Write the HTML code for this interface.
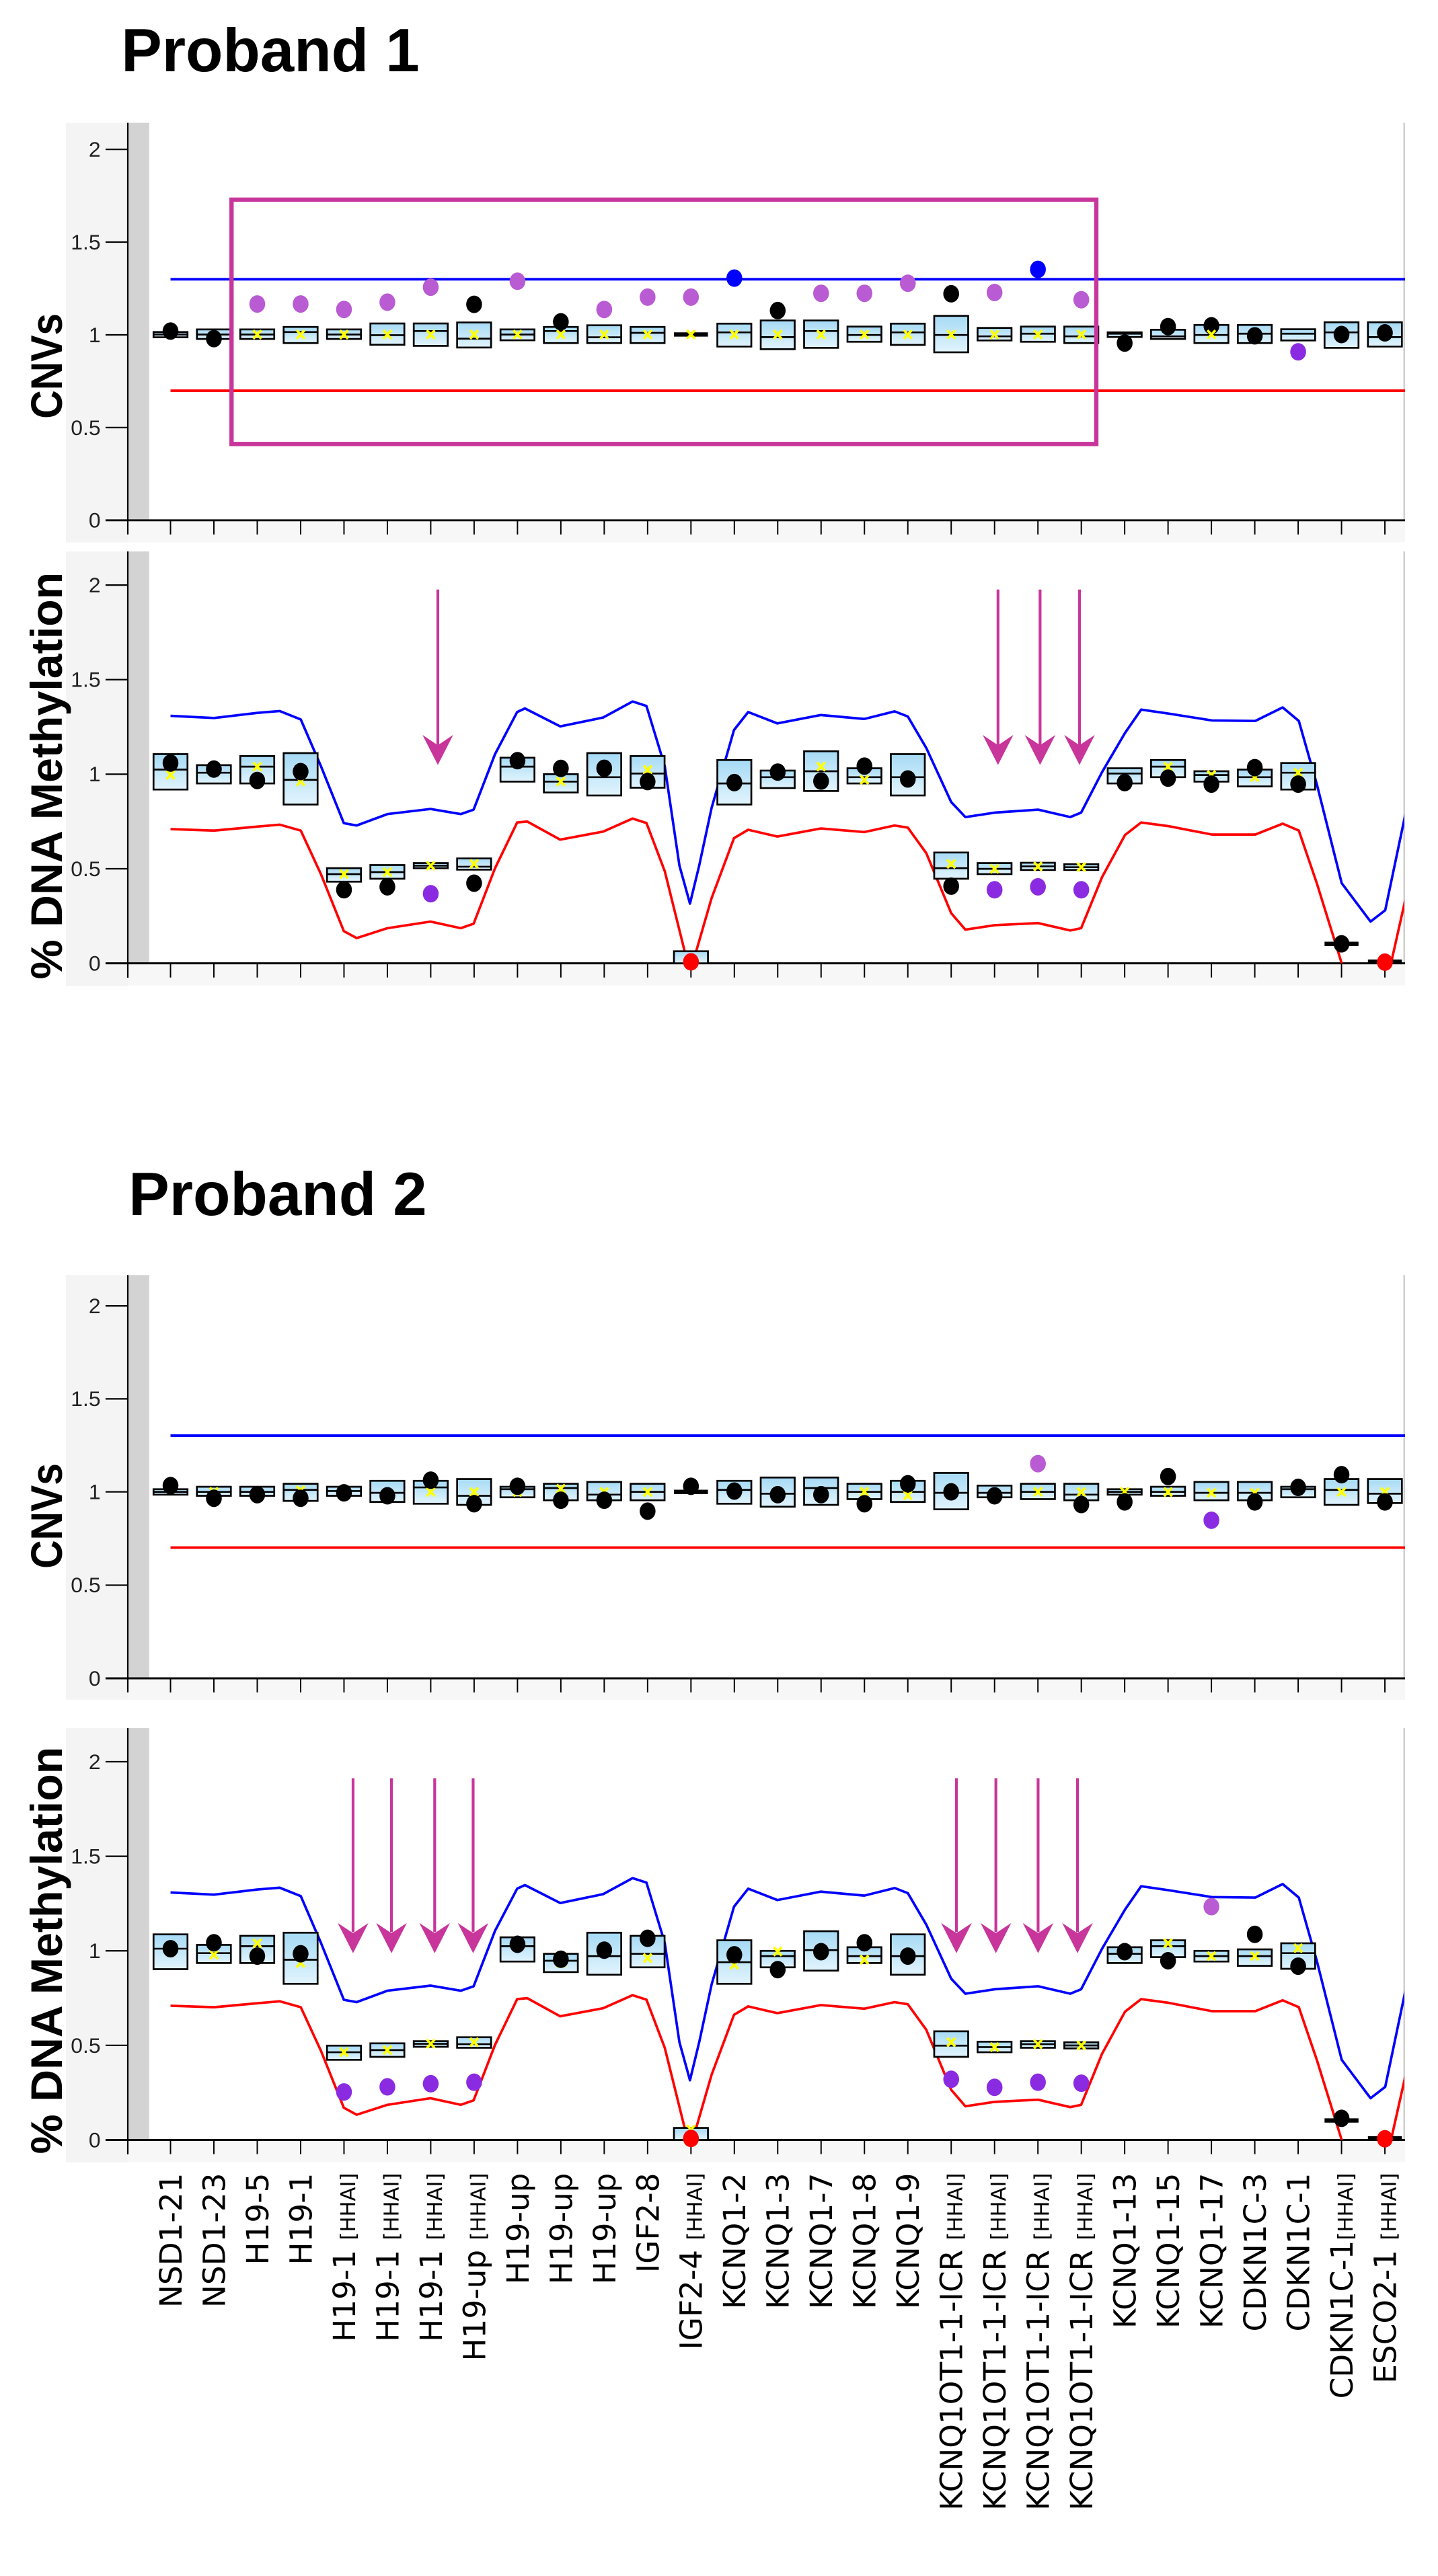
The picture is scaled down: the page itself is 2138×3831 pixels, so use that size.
<!DOCTYPE html>
<html><head><meta charset="utf-8"><style>
html,body{margin:0;padding:0;background:#fff;}
svg{display:block;}
.b{fill:url(#g);stroke:#000;stroke-width:1.1;}
.m{stroke:#000;stroke-width:1.1;fill:none;}
.L{stroke:#000;stroke-width:2.6;}
.k{fill:#000;}.p{fill:#b95bd3;}.v{fill:#8a2be2;}.bl{fill:#0000ff;}.r{fill:#ff0000;}
.tl{font-family:"Liberation Sans",sans-serif;font-size:13px;fill:#222;text-anchor:end;}
.xl{font-family:"DejaVu Sans","Liberation Sans",sans-serif;font-size:18.5px;fill:#000;text-anchor:end;}
.xl tspan{font-size:12.5px;}
.yt{font-family:"Liberation Sans",sans-serif;font-weight:bold;font-size:27px;text-anchor:middle;}
.ti{font-family:"Liberation Sans",sans-serif;font-weight:bold;font-size:37px;}
</style></head><body>
<svg width="2138" height="3831" viewBox="0 0 872 1562.5" preserveAspectRatio="none" xmlns="http://www.w3.org/2000/svg" xmlns:xlink="http://www.w3.org/1999/xlink">
<defs>
<linearGradient id="g" x1="0" y1="0" x2="0" y2="1"><stop offset="0" stop-color="#a6daf5"/><stop offset="1" stop-color="#e2f4fd"/></linearGradient>
<path id="yx" d="M-2.4,-2.6L2.4,2.6M-2.4,2.6L2.4,-2.6" stroke="#ffff00" stroke-width="1.5" fill="none"/>
<path id="xt" d="M77.5 0v8.6M103.4 0v8.6M129.7 0v8.6M156 0v8.6M182.3 0v8.6M208.6 0v8.6M234.9 0v8.6M261.2 0v8.6M287.5 0v8.6M313.8 0v8.6M340.1 0v8.6M366.4 0v8.6M392.7 0v8.6M419 0v8.6M445.3 0v8.6M471.6 0v8.6M497.9 0v8.6M524.2 0v8.6M550.5 0v8.6M576.8 0v8.6M603.1 0v8.6M629.4 0v8.6M655.7 0v8.6M682 0v8.6M708.3 0v8.6M734.6 0v8.6M760.9 0v8.6M787.2 0v8.6M813.5 0v8.6M839.8 0v8.6" stroke="#000" stroke-width="0.8"/>
<clipPath id="cp"><rect x="90.5" y="330" width="761" height="254.3"/></clipPath>
<g id="curves" clip-path="url(#cp)" fill="none" stroke-width="1.5" stroke-linejoin="round">
<path stroke="#0000ff" d="M103.4,434.2 L129.8,435.5 L156.0,432.4 L169.6,431.3 L182.4,436.4 L194.6,464.7 L208.5,499.3 L216.3,500.7 L234.9,493.8 L261.0,490.7 L279.4,493.8 L287.2,491.1 L300.2,457.4 L313.6,431.9 L318.3,429.7 L339.7,440.6 L365.8,435.2 L383.6,425.5 L392.0,428.2 L403.1,464.7 L412,525 L418.4,548.1 L424,525 L431.5,490.1 L445.1,442.8 L453.7,431.9 L471.4,438.8 L497.8,433.7 L524.1,436.1 L542.5,431.5 L550.5,434.6 L561.7,453.7 L576.8,486.5 L585.4,495.6 L603.2,492.9 L629.5,491.1 L649.0,495.6 L655.6,492.9 L668.3,468.3 L682.2,444.6 L692.0,430.4 L708.5,432.8 L734.9,437.0 L761.2,437.3 L777.8,429.1 L787.6,437.3 L798.5,475.6 L813.6,535.7 L831.1,559.0 L840.0,552.1 L853.0,490.1"/>
<path stroke="#ff0000" d="M103.4,502.9 L129.8,503.8 L156.0,501.4 L169.6,500.2 L182.4,503.8 L194.6,530.2 L208.5,564.8 L216.3,569.0 L234.9,563.0 L261.0,559.0 L279.4,563.0 L287.2,560.3 L300.2,526.6 L313.6,498.9 L319.7,498.3 L339.7,509.3 L365.8,504.4 L383.6,496.5 L392.0,499.2 L403.1,528.4 L418.4,590 L431.5,544.8 L445.1,508.4 L453.7,503.3 L471.4,507.4 L497.8,502.5 L524.1,504.7 L542.5,500.7 L550.5,502.0 L561.7,517.5 L576.8,553.9 L585.4,563.9 L603.2,561.2 L629.5,559.9 L649.0,564.4 L655.6,563.0 L668.3,532.0 L682.2,506.5 L692.0,498.9 L708.5,501.1 L734.9,506.2 L761.2,506.2 L777.8,499.6 L787.6,503.8 L798.5,535.7 L813.6,584.3 L826.6,603 L840,600 L853,542.0"/>
</g>
</defs>

<!-- Titles -->
<text class="ti" x="73.5" y="43.2">Proband 1</text>
<text class="ti" x="78" y="737">Proband 2</text>

<!-- ============ PANEL 1 ============ -->
<rect x="40" y="74.5" width="37.5" height="254.5" fill="#f4f4f4"/>
<rect x="77.5" y="315.6" width="774.5" height="13.4" fill="#f7f7f7"/>
<rect x="77.5" y="74.5" width="13" height="241.1" fill="#d3d3d3"/>
<line x1="851.5" y1="74.5" x2="851.5" y2="315.6" stroke="#cfcfcf" stroke-width="1"/>
<line x1="77.5" y1="74.5" x2="77.5" y2="324" stroke="#000" stroke-width="0.9"/>
<line x1="64" y1="315.6" x2="852" y2="315.6" stroke="#000" stroke-width="1.2"/>
<use href="#xt" xlink:href="#xt" y="315.6"/>
<path d="M64 90.6H77.5M64 146.85H77.5M64 203.1H77.5M64 259.35H77.5" stroke="#000" stroke-width="0.9"/>
<text class="tl" x="61" y="95">2</text><text class="tl" x="61" y="151.3">1.5</text><text class="tl" x="61" y="207.5">1</text><text class="tl" x="61" y="263.8">0.5</text><text class="tl" x="61" y="320">0</text>
<text class="yt" transform="translate(37.5,222) rotate(-90)" textLength="64" lengthAdjust="spacingAndGlyphs">CNVs</text>
<line x1="103.4" y1="169.4" x2="852" y2="169.4" stroke="#0000ff" stroke-width="1.6"/>
<line x1="103.4" y1="237" x2="852" y2="237" stroke="#ff0000" stroke-width="1.6"/>
<g>
<rect class="b" x="93.1" y="201.4" width="20.6" height="3.2"/><path class="m" d="M93.1 202.9h20.6"/>
<rect class="b" x="119.4" y="199.8" width="20.6" height="5.8"/><path class="m" d="M119.4 202.9h20.6"/>
<rect class="b" x="145.7" y="199.8" width="20.6" height="5.8"/><path class="m" d="M145.7 202.9h20.6"/>
<rect class="b" x="172" y="198.3" width="20.6" height="9.8"/><path class="m" d="M172 201.4h20.6"/>
<rect class="b" x="198.3" y="199.8" width="20.6" height="5.8"/><path class="m" d="M198.3 202.9h20.6"/>
<rect class="b" x="224.6" y="196.2" width="20.6" height="12.9"/><path class="m" d="M224.6 203.3h20.6"/>
<rect class="b" x="250.9" y="196.2" width="20.6" height="13.6"/><path class="m" d="M250.9 200.8h20.6"/>
<rect class="b" x="277.2" y="195.6" width="20.6" height="15.2"/><path class="m" d="M277.2 205.4h20.6"/>
<rect class="b" x="303.5" y="199.8" width="20.6" height="6.6"/><path class="m" d="M303.5 202.9h20.6"/>
<rect class="b" x="329.8" y="198.3" width="20.6" height="9.8"/><path class="m" d="M329.8 200.8h20.6"/>
<rect class="b" x="356.1" y="197.3" width="20.6" height="10.8"/><path class="m" d="M356.1 204.6h20.6"/>
<rect class="b" x="382.4" y="198.3" width="20.6" height="9.8"/><path class="m" d="M382.4 201.9h20.6"/>
<path class="L" d="M408.7 202.9h20.6"/>
<rect class="b" x="435" y="196.3" width="20.6" height="13.9"/><path class="m" d="M435 201.6h20.6"/>
<rect class="b" x="461.3" y="194.4" width="20.6" height="17.4"/><path class="m" d="M461.3 204.5h20.6"/>
<rect class="b" x="487.6" y="194.4" width="20.6" height="16.6"/><path class="m" d="M487.6 200.8h20.6"/>
<rect class="b" x="513.9" y="198.1" width="20.6" height="9.2"/><path class="m" d="M513.9 203.2h20.6"/>
<rect class="b" x="540.2" y="196.3" width="20.6" height="12.9"/><path class="m" d="M540.2 201.6h20.6"/>
<rect class="b" x="566.5" y="191.6" width="20.6" height="22.1"/><path class="m" d="M566.5 203.2h20.6"/>
<rect class="b" x="592.8" y="198.9" width="20.6" height="7.6"/><path class="m" d="M592.8 204h20.6"/>
<rect class="b" x="619.1" y="198.1" width="20.6" height="9.2"/><path class="m" d="M619.1 202.4h20.6"/>
<rect class="b" x="645.4" y="198.1" width="20.6" height="10"/><path class="m" d="M645.4 204h20.6"/>
<rect class="b" x="671.7" y="201.6" width="20.6" height="2.8"/><path class="m" d="M671.7 202.4h20.6"/>
<rect class="b" x="698" y="200" width="20.6" height="5.6"/><path class="m" d="M698 204h20.6"/>
<rect class="b" x="724.3" y="197.1" width="20.6" height="11"/><path class="m" d="M724.3 203.2h20.6"/>
<rect class="b" x="750.6" y="197.1" width="20.6" height="11"/><path class="m" d="M750.6 202.4h20.6"/>
<rect class="b" x="776.9" y="199.7" width="20.6" height="6.8"/><path class="m" d="M776.9 202.4h20.6"/>
<rect class="b" x="803.2" y="195.5" width="20.6" height="15.5"/><path class="m" d="M803.2 201.6h20.6"/>
<rect class="b" x="829.5" y="195.5" width="20.6" height="14.7"/><path class="m" d="M829.5 204.5h20.6"/>
</g>
<g>
<ellipse class="k" cx="103.4" cy="200.8" rx="4.8" ry="5.3"/><ellipse class="k" cx="129.7" cy="205.4" rx="4.8" ry="5.3"/>
<ellipse class="p" cx="156" cy="184.4" rx="4.8" ry="5.3"/><ellipse class="p" cx="182.3" cy="184.4" rx="4.8" ry="5.3"/>
<ellipse class="p" cx="208.6" cy="187.7" rx="4.8" ry="5.3"/><ellipse class="p" cx="234.9" cy="183.3" rx="4.8" ry="5.3"/>
<ellipse class="p" cx="261.2" cy="174.2" rx="4.8" ry="5.3"/><ellipse class="k" cx="287.5" cy="184.6" rx="4.8" ry="5.3"/>
<ellipse class="p" cx="313.8" cy="170.6" rx="4.8" ry="5.3"/><ellipse class="k" cx="340.1" cy="195.2" rx="4.8" ry="5.3"/>
<ellipse class="p" cx="366.4" cy="187.7" rx="4.8" ry="5.3"/><ellipse class="p" cx="392.7" cy="180.2" rx="4.8" ry="5.3"/>
<ellipse class="p" cx="419" cy="180.2" rx="4.8" ry="5.3"/><ellipse class="bl" cx="445.3" cy="168.7" rx="4.8" ry="5.3"/>
<ellipse class="k" cx="471.6" cy="188.4" rx="4.8" ry="5.3"/><ellipse class="p" cx="497.9" cy="177.9" rx="4.8" ry="5.3"/>
<ellipse class="p" cx="524.2" cy="177.9" rx="4.8" ry="5.3"/><ellipse class="p" cx="550.5" cy="171.8" rx="4.8" ry="5.3"/>
<ellipse class="k" cx="576.8" cy="178.2" rx="4.8" ry="5.3"/><ellipse class="p" cx="603.1" cy="177.4" rx="4.8" ry="5.3"/>
<ellipse class="bl" cx="629.4" cy="163.4" rx="4.8" ry="5.3"/><ellipse class="p" cx="655.7" cy="181.8" rx="4.8" ry="5.3"/>
<ellipse class="k" cx="682" cy="208.1" rx="4.8" ry="5.3"/><ellipse class="k" cx="708.3" cy="198.1" rx="4.8" ry="5.3"/>
<ellipse class="k" cx="734.6" cy="197.6" rx="4.8" ry="5.3"/><ellipse class="k" cx="760.9" cy="203.7" rx="4.8" ry="5.3"/>
<ellipse class="v" cx="787.2" cy="213.4" rx="4.8" ry="5.3"/><ellipse class="k" cx="813.5" cy="202.9" rx="4.8" ry="5.3"/>
<ellipse class="k" cx="839.8" cy="201.9" rx="4.8" ry="5.3"/>
</g>
<g>
<use href="#yx" xlink:href="#yx" x="156" y="202.9"/><use href="#yx" xlink:href="#yx" x="182.3" y="202.9"/><use href="#yx" xlink:href="#yx" x="208.6" y="202.9"/><use href="#yx" xlink:href="#yx" x="234.9" y="202.9"/><use href="#yx" xlink:href="#yx" x="261.2" y="202.9"/><use href="#yx" xlink:href="#yx" x="287.5" y="202.9"/><use href="#yx" xlink:href="#yx" x="313.8" y="202.9"/><use href="#yx" xlink:href="#yx" x="340.1" y="202.9"/><use href="#yx" xlink:href="#yx" x="366.4" y="202.9"/><use href="#yx" xlink:href="#yx" x="392.7" y="202.9"/><use href="#yx" xlink:href="#yx" x="419" y="202.9"/><use href="#yx" xlink:href="#yx" x="445.3" y="202.9"/><use href="#yx" xlink:href="#yx" x="471.6" y="202.9"/><use href="#yx" xlink:href="#yx" x="497.9" y="202.9"/><use href="#yx" xlink:href="#yx" x="524.2" y="202.9"/><use href="#yx" xlink:href="#yx" x="550.5" y="202.9"/><use href="#yx" xlink:href="#yx" x="576.8" y="202.9"/><use href="#yx" xlink:href="#yx" x="603.1" y="202.9"/><use href="#yx" xlink:href="#yx" x="629.4" y="202.9"/><use href="#yx" xlink:href="#yx" x="655.7" y="202.9"/><use href="#yx" xlink:href="#yx" x="734.6" y="202.9"/>
</g>
<rect x="140.4" y="121.1" width="524.4" height="148.2" fill="none" stroke="#c8359b" stroke-width="2.6"/>

<!-- ============ PANEL 2 ============ -->
<g id="p2frame">
<rect x="40" y="334.5" width="37.5" height="263.5" fill="#f4f4f4"/>
<rect x="77.5" y="584.3" width="774.5" height="13.4" fill="#f7f7f7"/>
<rect x="77.5" y="334.5" width="13" height="249.8" fill="#d3d3d3"/>
<line x1="851.5" y1="334.5" x2="851.5" y2="584.3" stroke="#cfcfcf" stroke-width="1"/>
<line x1="77.5" y1="334.5" x2="77.5" y2="593" stroke="#000" stroke-width="0.9"/>
<line x1="64" y1="584.3" x2="852" y2="584.3" stroke="#000" stroke-width="1.2"/>
<use href="#xt" xlink:href="#xt" y="584.3"/>
<path d="M64 354.9H77.5M64 412.25H77.5M64 469.6H77.5M64 526.95H77.5" stroke="#000" stroke-width="0.9"/>
<text class="tl" x="61" y="359.3">2</text><text class="tl" x="61" y="416.7">1.5</text><text class="tl" x="61" y="474">1</text><text class="tl" x="61" y="531.4">0.5</text><text class="tl" x="61" y="588.7">0</text>
<use href="#curves" xlink:href="#curves"/>
</g>
<text class="yt" transform="translate(37.5,470.5) rotate(-90)" textLength="247" lengthAdjust="spacingAndGlyphs">% DNA Methylation</text>
<g>
<rect class="b" x="93.1" y="457.4" width="20.6" height="21.5"/><path class="m" d="M93.1 466.8h20.6"/>
<rect class="b" x="119.4" y="464.1" width="20.6" height="11.1"/><path class="m" d="M119.4 468.7h20.6"/>
<rect class="b" x="145.7" y="458.6" width="20.6" height="16.6"/><path class="m" d="M145.7 465h20.6"/>
<rect class="b" x="172" y="456.8" width="20.6" height="31.2"/><path class="m" d="M172 473h20.6"/>
<rect class="b" x="198.3" y="526.6" width="20.6" height="8.2"/><path class="m" d="M198.3 530.2h20.6"/>
<rect class="b" x="224.6" y="524.7" width="20.6" height="8.3"/><path class="m" d="M224.6 529h20.6"/>
<rect class="b" x="250.9" y="523.5" width="20.6" height="3.1"/><path class="m" d="M250.9 525.1h20.6"/>
<rect class="b" x="277.2" y="520.7" width="20.6" height="6.8"/><path class="m" d="M277.2 525.7h20.6"/>
<rect class="b" x="303.5" y="459.6" width="20.6" height="14.5"/><path class="m" d="M303.5 465h20.6"/>
<rect class="b" x="329.8" y="469.6" width="20.6" height="11.1"/><path class="m" d="M329.8 474.1h20.6"/>
<rect class="b" x="356.1" y="456.8" width="20.6" height="25.7"/><path class="m" d="M356.1 471.4h20.6"/>
<rect class="b" x="382.4" y="458.6" width="20.6" height="19.2"/><path class="m" d="M382.4 469.2h20.6"/>
<rect class="b" x="408.7" y="577" width="20.6" height="7.3"/>
<rect class="b" x="435" y="461" width="20.6" height="27"/><path class="m" d="M435 475.2h20.6"/>
<rect class="b" x="461.3" y="467.4" width="20.6" height="10.6"/><path class="m" d="M461.3 471.4h20.6"/>
<rect class="b" x="487.6" y="455.7" width="20.6" height="24.1"/><path class="m" d="M487.6 467.8h20.6"/>
<rect class="b" x="513.9" y="466" width="20.6" height="9.2"/><path class="m" d="M513.9 471.4h20.6"/>
<rect class="b" x="540.2" y="457.4" width="20.6" height="25.1"/><path class="m" d="M540.2 471.4h20.6"/>
<rect class="b" x="566.5" y="517.1" width="20.6" height="15.9"/><path class="m" d="M566.5 526.6h20.6"/>
<rect class="b" x="592.8" y="523.5" width="20.6" height="6.7"/><path class="m" d="M592.8 527h20.6"/>
<rect class="b" x="619.1" y="523.3" width="20.6" height="4.4"/><path class="m" d="M619.1 525.5h20.6"/>
<rect class="b" x="645.4" y="524.2" width="20.6" height="3.5"/><path class="m" d="M645.4 526h20.6"/>
<rect class="b" x="671.7" y="466" width="20.6" height="9.2"/><path class="m" d="M671.7 469.2h20.6"/>
<rect class="b" x="698" y="461" width="20.6" height="10.4"/><path class="m" d="M698 465h20.6"/>
<rect class="b" x="724.3" y="467.8" width="20.6" height="6.3"/><path class="m" d="M724.3 470.1h20.6"/>
<rect class="b" x="750.6" y="466.8" width="20.6" height="10.2"/><path class="m" d="M750.6 471.4h20.6"/>
<rect class="b" x="776.9" y="462.8" width="20.6" height="16.1"/><path class="m" d="M776.9 468.7h20.6"/>
<path class="L" d="M803.2 572.5h20.6M829.5 583.3h20.6"/>
</g>
<g>
<use href="#yx" xlink:href="#yx" x="103.4" y="470"/><use href="#yx" xlink:href="#yx" x="156" y="465"/><use href="#yx" xlink:href="#yx" x="182.3" y="474"/><use href="#yx" xlink:href="#yx" x="208.6" y="530.2"/><use href="#yx" xlink:href="#yx" x="234.9" y="529"/><use href="#yx" xlink:href="#yx" x="261.2" y="525.1"/><use href="#yx" xlink:href="#yx" x="287.5" y="524"/><use href="#yx" xlink:href="#yx" x="340.1" y="474.1"/><use href="#yx" xlink:href="#yx" x="392.7" y="467"/><use href="#yx" xlink:href="#yx" x="497.9" y="465"/><use href="#yx" xlink:href="#yx" x="524.2" y="473"/><use href="#yx" xlink:href="#yx" x="576.8" y="524"/><use href="#yx" xlink:href="#yx" x="603.1" y="527"/><use href="#yx" xlink:href="#yx" x="629.4" y="525.5"/><use href="#yx" xlink:href="#yx" x="655.7" y="526"/><use href="#yx" xlink:href="#yx" x="708.3" y="465"/><use href="#yx" xlink:href="#yx" x="734.6" y="470.1"/><use href="#yx" xlink:href="#yx" x="760.9" y="471.4"/><use href="#yx" xlink:href="#yx" x="787.2" y="468.7"/>
</g>
<g>
<ellipse class="k" cx="103.4" cy="462.8" rx="4.8" ry="5.3"/><ellipse class="k" cx="129.7" cy="466.5" rx="4.8" ry="5.3"/>
<ellipse class="k" cx="156" cy="473.4" rx="4.8" ry="5.3"/><ellipse class="k" cx="182.3" cy="468" rx="4.8" ry="5.3"/>
<ellipse class="k" cx="208.6" cy="539.7" rx="4.8" ry="5.3"/><ellipse class="k" cx="234.9" cy="537.9" rx="4.8" ry="5.3"/>
<ellipse class="v" cx="261.2" cy="542.1" rx="4.8" ry="5.3"/><ellipse class="k" cx="287.5" cy="535.7" rx="4.8" ry="5.3"/>
<ellipse class="k" cx="313.8" cy="461.4" rx="4.8" ry="5.3"/><ellipse class="k" cx="340.1" cy="466.1" rx="4.8" ry="5.3"/>
<ellipse class="k" cx="366.4" cy="466" rx="4.8" ry="5.3"/><ellipse class="k" cx="392.7" cy="474.1" rx="4.8" ry="5.3"/>
<ellipse class="r" cx="419" cy="583.4" rx="4.8" ry="5.3"/><ellipse class="k" cx="445.3" cy="474.7" rx="4.8" ry="5.3"/>
<ellipse class="k" cx="471.6" cy="468.3" rx="4.8" ry="5.3"/><ellipse class="k" cx="497.9" cy="473.8" rx="4.8" ry="5.3"/>
<ellipse class="k" cx="524.2" cy="464.7" rx="4.8" ry="5.3"/><ellipse class="k" cx="550.5" cy="472.5" rx="4.8" ry="5.3"/>
<ellipse class="k" cx="576.8" cy="537.5" rx="4.8" ry="5.3"/><ellipse class="v" cx="603.1" cy="539.7" rx="4.8" ry="5.3"/>
<ellipse class="v" cx="629.4" cy="537.9" rx="4.8" ry="5.3"/><ellipse class="v" cx="655.7" cy="539.7" rx="4.8" ry="5.3"/>
<ellipse class="k" cx="682" cy="474.7" rx="4.8" ry="5.3"/><ellipse class="k" cx="708.3" cy="472" rx="4.8" ry="5.3"/>
<ellipse class="k" cx="734.6" cy="475.6" rx="4.8" ry="5.3"/><ellipse class="k" cx="760.9" cy="465.6" rx="4.8" ry="5.3"/>
<ellipse class="k" cx="787.2" cy="475.6" rx="4.8" ry="5.3"/><ellipse class="k" cx="813.5" cy="572.5" rx="4.8" ry="5.3"/>
<ellipse class="r" cx="839.8" cy="583.6" rx="4.8" ry="5.3"/>
</g>
<g fill="#c8359b" stroke="#c8359b">
<path d="M265.5 357.6V452M605.2 357.6V452M630.7 357.6V452M654.6 357.6V452" stroke-width="1.7" fill="none"/>
<path stroke="none" d="M265.5 464L256.2 445.8L265.5 452L274.8 445.8Z M605.2 464L595.9 445.8L605.2 452L614.5 445.8Z M630.7 464L621.4 445.8L630.7 452L640 445.8Z M654.6 464L645.3 445.8L654.6 452L663.9 445.8Z"/>
</g>

<!-- ============ PANEL 3 ============ -->
<rect x="40" y="773.4" width="37.5" height="257.6" fill="#f4f4f4"/>
<rect x="77.5" y="1018" width="774.5" height="13" fill="#f7f7f7"/>
<rect x="77.5" y="773.4" width="13" height="244.6" fill="#d3d3d3"/>
<line x1="851.5" y1="773.4" x2="851.5" y2="1018" stroke="#cfcfcf" stroke-width="1"/>
<line x1="77.5" y1="773.4" x2="77.5" y2="1026.6" stroke="#000" stroke-width="0.9"/>
<line x1="64" y1="1018" x2="852" y2="1018" stroke="#000" stroke-width="1.2"/>
<use href="#xt" xlink:href="#xt" y="1018"/>
<path d="M64 792.1H77.5M64 848.5H77.5M64 904.9H77.5M64 961.5H77.5" stroke="#000" stroke-width="0.9"/>
<text class="tl" x="61" y="796.5">2</text><text class="tl" x="61" y="852.9">1.5</text><text class="tl" x="61" y="909.3">1</text><text class="tl" x="61" y="965.9">0.5</text><text class="tl" x="61" y="1022.4">0</text>
<text class="yt" transform="translate(37.5,919.5) rotate(-90)" textLength="64" lengthAdjust="spacingAndGlyphs">CNVs</text>
<line x1="103.4" y1="870.8" x2="852" y2="870.8" stroke="#0000ff" stroke-width="1.6"/>
<line x1="103.4" y1="938.7" x2="852" y2="938.7" stroke="#ff0000" stroke-width="1.6"/>
<g>
<rect class="b" x="93.1" y="903.3" width="20.6" height="3.3"/><path class="m" d="M93.1 904.9h20.6"/>
<rect class="b" x="119.4" y="901.8" width="20.6" height="5.5"/><path class="m" d="M119.4 904.9h20.6"/>
<rect class="b" x="145.7" y="901.8" width="20.6" height="5.5"/><path class="m" d="M145.7 904.9h20.6"/>
<rect class="b" x="172" y="900" width="20.6" height="10.4"/><path class="m" d="M172 903.7h20.6"/>
<rect class="b" x="198.3" y="901.8" width="20.6" height="5.5"/><path class="m" d="M198.3 904.4h20.6"/>
<rect class="b" x="224.6" y="898.2" width="20.6" height="12.8"/><path class="m" d="M224.6 905.5h20.6"/>
<rect class="b" x="250.9" y="898.2" width="20.6" height="13.9"/><path class="m" d="M250.9 902.2h20.6"/>
<rect class="b" x="277.2" y="897.1" width="20.6" height="15.7"/><path class="m" d="M277.2 907.3h20.6"/>
<rect class="b" x="303.5" y="901.8" width="20.6" height="6.4"/><path class="m" d="M303.5 903.3h20.6"/>
<rect class="b" x="329.8" y="900" width="20.6" height="10"/><path class="m" d="M329.8 902.6h20.6"/>
<rect class="b" x="356.1" y="898.9" width="20.6" height="11.1"/><path class="m" d="M356.1 906.6h20.6"/>
<rect class="b" x="382.4" y="900" width="20.6" height="10"/><path class="m" d="M382.4 904.9h20.6"/>
<path class="L" d="M408.7 904.9h20.6"/>
<rect class="b" x="435" y="898.2" width="20.6" height="13.9"/><path class="m" d="M435 903.7h20.6"/>
<rect class="b" x="461.3" y="896.2" width="20.6" height="17.7"/><path class="m" d="M461.3 906h20.6"/>
<rect class="b" x="487.6" y="896.2" width="20.6" height="16.6"/><path class="m" d="M487.6 902.6h20.6"/>
<rect class="b" x="513.9" y="900" width="20.6" height="9.3"/><path class="m" d="M513.9 904.9h20.6"/>
<rect class="b" x="540.2" y="898.2" width="20.6" height="12.8"/><path class="m" d="M540.2 904.9h20.6"/>
<rect class="b" x="566.5" y="893.4" width="20.6" height="22.1"/><path class="m" d="M566.5 905.5h20.6"/>
<rect class="b" x="592.8" y="901.1" width="20.6" height="7.1"/><path class="m" d="M592.8 905.5h20.6"/>
<rect class="b" x="619.1" y="900" width="20.6" height="9.3"/><path class="m" d="M619.1 904.9h20.6"/>
<rect class="b" x="645.4" y="900" width="20.6" height="10"/><path class="m" d="M645.4 906.6h20.6"/>
<rect class="b" x="671.7" y="903.3" width="20.6" height="3.3"/><path class="m" d="M671.7 904.9h20.6"/>
<rect class="b" x="698" y="901.8" width="20.6" height="5.5"/><path class="m" d="M698 904.9h20.6"/>
<rect class="b" x="724.3" y="898.9" width="20.6" height="11.1"/><path class="m" d="M724.3 905.5h20.6"/>
<rect class="b" x="750.6" y="898.9" width="20.6" height="11.1"/><path class="m" d="M750.6 905.5h20.6"/>
<rect class="b" x="776.9" y="901.8" width="20.6" height="6.4"/><path class="m" d="M776.9 903.3h20.6"/>
<rect class="b" x="803.2" y="897.1" width="20.6" height="15.7"/><path class="m" d="M803.2 903.7h20.6"/>
<rect class="b" x="829.5" y="897.1" width="20.6" height="14.6"/><path class="m" d="M829.5 906h20.6"/>
</g>
<g>
<use href="#yx" xlink:href="#yx" x="129.7" y="904.9"/><use href="#yx" xlink:href="#yx" x="182.3" y="904"/><use href="#yx" xlink:href="#yx" x="261.2" y="905"/><use href="#yx" xlink:href="#yx" x="287.5" y="905"/><use href="#yx" xlink:href="#yx" x="313.8" y="905"/><use href="#yx" xlink:href="#yx" x="340.1" y="903"/><use href="#yx" xlink:href="#yx" x="366.4" y="905"/><use href="#yx" xlink:href="#yx" x="392.7" y="905"/><use href="#yx" xlink:href="#yx" x="524.2" y="904.9"/><use href="#yx" xlink:href="#yx" x="550.5" y="907"/><use href="#yx" xlink:href="#yx" x="629.4" y="904.9"/><use href="#yx" xlink:href="#yx" x="655.7" y="905"/><use href="#yx" xlink:href="#yx" x="682" y="904.9"/><use href="#yx" xlink:href="#yx" x="708.3" y="905"/><use href="#yx" xlink:href="#yx" x="734.6" y="905.5"/><use href="#yx" xlink:href="#yx" x="760.9" y="905.5"/><use href="#yx" xlink:href="#yx" x="813.5" y="905"/><use href="#yx" xlink:href="#yx" x="839.8" y="905"/>
</g>
<g>
<ellipse class="k" cx="103.4" cy="901.1" rx="4.8" ry="5.3"/><ellipse class="k" cx="129.7" cy="908.8" rx="4.8" ry="5.3"/>
<ellipse class="k" cx="156" cy="906.6" rx="4.8" ry="5.3"/><ellipse class="k" cx="182.3" cy="908.8" rx="4.8" ry="5.3"/>
<ellipse class="k" cx="208.6" cy="905.5" rx="4.8" ry="5.3"/><ellipse class="k" cx="234.9" cy="907.3" rx="4.8" ry="5.3"/>
<ellipse class="k" cx="261.2" cy="897.8" rx="4.8" ry="5.3"/><ellipse class="k" cx="287.5" cy="912.1" rx="4.8" ry="5.3"/>
<ellipse class="k" cx="313.8" cy="901.5" rx="4.8" ry="5.3"/><ellipse class="k" cx="340.1" cy="910" rx="4.8" ry="5.3"/>
<ellipse class="k" cx="366.4" cy="910" rx="4.8" ry="5.3"/><ellipse class="k" cx="392.7" cy="916.6" rx="4.8" ry="5.3"/>
<ellipse class="k" cx="419" cy="901.5" rx="4.8" ry="5.3"/><ellipse class="k" cx="445.3" cy="904.4" rx="4.8" ry="5.3"/>
<ellipse class="k" cx="471.6" cy="906.6" rx="4.8" ry="5.3"/><ellipse class="k" cx="497.9" cy="906.6" rx="4.8" ry="5.3"/>
<ellipse class="k" cx="524.2" cy="912.1" rx="4.8" ry="5.3"/><ellipse class="k" cx="550.5" cy="900" rx="4.8" ry="5.3"/>
<ellipse class="k" cx="576.8" cy="904.9" rx="4.8" ry="5.3"/><ellipse class="k" cx="603.1" cy="907.3" rx="4.8" ry="5.3"/>
<ellipse class="p" cx="629.4" cy="887.8" rx="4.8" ry="5.3"/><ellipse class="k" cx="655.7" cy="912.6" rx="4.8" ry="5.3"/>
<ellipse class="k" cx="682" cy="911" rx="4.8" ry="5.3"/><ellipse class="k" cx="708.3" cy="895.6" rx="4.8" ry="5.3"/>
<ellipse class="v" cx="734.6" cy="922.1" rx="4.8" ry="5.3"/><ellipse class="k" cx="760.9" cy="911" rx="4.8" ry="5.3"/>
<ellipse class="k" cx="787.2" cy="902.2" rx="4.8" ry="5.3"/><ellipse class="k" cx="813.5" cy="894.5" rx="4.8" ry="5.3"/>
<ellipse class="k" cx="839.8" cy="911" rx="4.8" ry="5.3"/>
</g>

<!-- ============ PANEL 4 ============ -->
<g transform="translate(0,713.7)">
<use href="#p2frame" xlink:href="#p2frame"/>
<g>
<rect class="b" x="93.1" y="459.6" width="20.6" height="21.1"/><path class="m" d="M93.1 468.3h20.6"/>
<rect class="b" x="119.4" y="466" width="20.6" height="11"/><path class="m" d="M119.4 471h20.6"/>
<rect class="b" x="145.7" y="460.5" width="20.6" height="16.5"/><path class="m" d="M145.7 466.8h20.6"/>
<rect class="b" x="172" y="458.6" width="20.6" height="31"/><path class="m" d="M172 475h20.6"/>
<rect class="b" x="198.3" y="527.1" width="20.6" height="8.6"/><path class="m" d="M198.3 531.1h20.6"/>
<rect class="b" x="224.6" y="525.7" width="20.6" height="8.2"/><path class="m" d="M224.6 529.8h20.6"/>
<rect class="b" x="250.9" y="524.4" width="20.6" height="3.4"/><path class="m" d="M250.9 526h20.6"/>
<rect class="b" x="277.2" y="522" width="20.6" height="6.4"/><path class="m" d="M277.2 526.2h20.6"/>
<rect class="b" x="303.5" y="461.4" width="20.6" height="14.7"/><path class="m" d="M303.5 466.8h20.6"/>
<rect class="b" x="329.8" y="471.4" width="20.6" height="11.1"/><path class="m" d="M329.8 475.6h20.6"/>
<rect class="b" x="356.1" y="458.6" width="20.6" height="25.5"/><path class="m" d="M356.1 472.8h20.6"/>
<rect class="b" x="382.4" y="460.5" width="20.6" height="19.1"/><path class="m" d="M382.4 471.4h20.6"/>
<rect class="b" x="408.7" y="577" width="20.6" height="7.3"/>
<rect class="b" x="435" y="463.2" width="20.6" height="26.4"/><path class="m" d="M435 476.5h20.6"/>
<rect class="b" x="461.3" y="469.6" width="20.6" height="10"/><path class="m" d="M461.3 472.8h20.6"/>
<rect class="b" x="487.6" y="457.7" width="20.6" height="23.9"/><path class="m" d="M487.6 469.2h20.6"/>
<rect class="b" x="513.9" y="467.4" width="20.6" height="9.6"/><path class="m" d="M513.9 472.8h20.6"/>
<rect class="b" x="540.2" y="459.6" width="20.6" height="24.5"/><path class="m" d="M540.2 472.8h20.6"/>
<rect class="b" x="566.5" y="518.4" width="20.6" height="15.5"/><path class="m" d="M566.5 527.1h20.6"/>
<rect class="b" x="592.8" y="524.7" width="20.6" height="6.4"/><path class="m" d="M592.8 528h20.6"/>
<rect class="b" x="619.1" y="524.4" width="20.6" height="4"/><path class="m" d="M619.1 526.2h20.6"/>
<rect class="b" x="645.4" y="525.1" width="20.6" height="3.7"/><path class="m" d="M645.4 527h20.6"/>
<rect class="b" x="671.7" y="467.4" width="20.6" height="9.6"/><path class="m" d="M671.7 471.4h20.6"/>
<rect class="b" x="698" y="463.2" width="20.6" height="10.2"/><path class="m" d="M698 466.8h20.6"/>
<rect class="b" x="724.3" y="469.6" width="20.6" height="6.5"/><path class="m" d="M724.3 472.8h20.6"/>
<rect class="b" x="750.6" y="468.7" width="20.6" height="10"/><path class="m" d="M750.6 472.8h20.6"/>
<rect class="b" x="776.9" y="465" width="20.6" height="15.5"/><path class="m" d="M776.9 471h20.6"/>
<path class="L" d="M803.2 572.5h20.6M829.5 583.3h20.6"/>
</g>
<g>
<use href="#yx" xlink:href="#yx" x="129.7" y="472"/><use href="#yx" xlink:href="#yx" x="156" y="465"/><use href="#yx" xlink:href="#yx" x="182.3" y="477"/><use href="#yx" xlink:href="#yx" x="208.6" y="531.1"/><use href="#yx" xlink:href="#yx" x="234.9" y="529.8"/><use href="#yx" xlink:href="#yx" x="261.2" y="526"/><use href="#yx" xlink:href="#yx" x="287.5" y="525"/><use href="#yx" xlink:href="#yx" x="340.1" y="477"/><use href="#yx" xlink:href="#yx" x="392.7" y="474"/><use href="#yx" xlink:href="#yx" x="419" y="578"/><use href="#yx" xlink:href="#yx" x="445.3" y="478"/><use href="#yx" xlink:href="#yx" x="471.6" y="470"/><use href="#yx" xlink:href="#yx" x="524.2" y="475"/><use href="#yx" xlink:href="#yx" x="576.8" y="525"/><use href="#yx" xlink:href="#yx" x="603.1" y="528"/><use href="#yx" xlink:href="#yx" x="629.4" y="526.2"/><use href="#yx" xlink:href="#yx" x="655.7" y="527"/><use href="#yx" xlink:href="#yx" x="682" y="472"/><use href="#yx" xlink:href="#yx" x="708.3" y="465"/><use href="#yx" xlink:href="#yx" x="734.6" y="472.8"/><use href="#yx" xlink:href="#yx" x="760.9" y="472.8"/><use href="#yx" xlink:href="#yx" x="787.2" y="468"/>
</g>
<g>
<ellipse class="k" cx="103.4" cy="468.3" rx="4.8" ry="5.3"/><ellipse class="k" cx="129.7" cy="464.7" rx="4.8" ry="5.3"/>
<ellipse class="k" cx="156" cy="472.8" rx="4.8" ry="5.3"/><ellipse class="k" cx="182.3" cy="471.4" rx="4.8" ry="5.3"/>
<ellipse class="v" cx="208.6" cy="555.2" rx="4.8" ry="5.3"/><ellipse class="v" cx="234.9" cy="552.1" rx="4.8" ry="5.3"/>
<ellipse class="v" cx="261.2" cy="550.2" rx="4.8" ry="5.3"/><ellipse class="v" cx="287.5" cy="549.3" rx="4.8" ry="5.3"/>
<ellipse class="k" cx="313.8" cy="465.6" rx="4.8" ry="5.3"/><ellipse class="k" cx="340.1" cy="474.7" rx="4.8" ry="5.3"/>
<ellipse class="k" cx="366.4" cy="469.2" rx="4.8" ry="5.3"/><ellipse class="k" cx="392.7" cy="462" rx="4.8" ry="5.3"/>
<ellipse class="r" cx="419" cy="583.4" rx="4.8" ry="5.3"/><ellipse class="k" cx="445.3" cy="472" rx="4.8" ry="5.3"/>
<ellipse class="k" cx="471.6" cy="481" rx="4.8" ry="5.3"/><ellipse class="k" cx="497.9" cy="470.1" rx="4.8" ry="5.3"/>
<ellipse class="k" cx="524.2" cy="464.7" rx="4.8" ry="5.3"/><ellipse class="k" cx="550.5" cy="472.8" rx="4.8" ry="5.3"/>
<ellipse class="v" cx="576.8" cy="547.5" rx="4.8" ry="5.3"/><ellipse class="v" cx="603.1" cy="552.4" rx="4.8" ry="5.3"/>
<ellipse class="v" cx="629.4" cy="549.3" rx="4.8" ry="5.3"/><ellipse class="v" cx="655.7" cy="549.9" rx="4.8" ry="5.3"/>
<ellipse class="k" cx="682" cy="470.1" rx="4.8" ry="5.3"/><ellipse class="k" cx="708.3" cy="475.6" rx="4.8" ry="5.3"/>
<ellipse class="p" cx="734.6" cy="442.8" rx="4.8" ry="5.3"/><ellipse class="k" cx="760.9" cy="459.6" rx="4.8" ry="5.3"/>
<ellipse class="k" cx="787.2" cy="478.9" rx="4.8" ry="5.3"/><ellipse class="k" cx="813.5" cy="571.2" rx="4.8" ry="5.3"/>
<ellipse class="r" cx="839.8" cy="583.6" rx="4.8" ry="5.3"/>
</g>
</g>
<text class="yt" transform="translate(37.5,1183) rotate(-90)" textLength="247" lengthAdjust="spacingAndGlyphs">% DNA Methylation</text>
<g fill="#c8359b" stroke="#c8359b">
<path d="M214.1 1078.6V1172M237.4 1078.6V1172M263.6 1078.6V1172M286.9 1078.6V1172M580 1078.6V1172M603.9 1078.6V1172M629.5 1078.6V1172M653.4 1078.6V1172" stroke-width="1.7" fill="none"/>
<path stroke="none" d="M214.1 1184.7l-9.3-18.3l9.3 6.2l9.3-6.2Z M237.4 1184.7l-9.3-18.3l9.3 6.2l9.3-6.2Z M263.6 1184.7l-9.3-18.3l9.3 6.2l9.3-6.2Z M286.9 1184.7l-9.3-18.3l9.3 6.2l9.3-6.2Z M580 1184.7l-9.3-18.3l9.3 6.2l9.3-6.2Z M603.9 1184.7l-9.3-18.3l9.3 6.2l9.3-6.2Z M629.5 1184.7l-9.3-18.3l9.3 6.2l9.3-6.2Z M653.4 1184.7l-9.3-18.3l9.3 6.2l9.3-6.2Z"/>
</g>

<!-- X labels -->
<g class="xl">
<text transform="translate(110.1,1318) rotate(-90)">NSD1-21</text>
<text transform="translate(136.4,1318) rotate(-90)">NSD1-23</text>
<text transform="translate(162.7,1318) rotate(-90)">H19-5</text>
<text transform="translate(189,1318) rotate(-90)">H19-1</text>
<text transform="translate(215.3,1318) rotate(-90)">H19-1 <tspan>[HHAI]</tspan></text>
<text transform="translate(241.6,1318) rotate(-90)">H19-1 <tspan>[HHAI]</tspan></text>
<text transform="translate(267.9,1318) rotate(-90)">H19-1 <tspan>[HHAI]</tspan></text>
<text transform="translate(294.2,1318) rotate(-90)">H19-up <tspan>[HHAI]</tspan></text>
<text transform="translate(320.5,1318) rotate(-90)">H19-up</text>
<text transform="translate(346.8,1318) rotate(-90)">H19-up</text>
<text transform="translate(373.1,1318) rotate(-90)">H19-up</text>
<text transform="translate(399.4,1318) rotate(-90)">IGF2-8</text>
<text transform="translate(425.7,1318) rotate(-90)">IGF2-4 <tspan>[HHAI]</tspan></text>
<text transform="translate(452,1318) rotate(-90)">KCNQ1-2</text>
<text transform="translate(478.3,1318) rotate(-90)">KCNQ1-3</text>
<text transform="translate(504.6,1318) rotate(-90)">KCNQ1-7</text>
<text transform="translate(530.9,1318) rotate(-90)">KCNQ1-8</text>
<text transform="translate(557.2,1318) rotate(-90)">KCNQ1-9</text>
<text transform="translate(583.5,1318) rotate(-90)">KCNQ1OT1-1-ICR <tspan>[HHAI]</tspan></text>
<text transform="translate(609.8,1318) rotate(-90)">KCNQ1OT1-1-ICR <tspan>[HHAI]</tspan></text>
<text transform="translate(636.1,1318) rotate(-90)">KCNQ1OT1-1-ICR <tspan>[HHAI]</tspan></text>
<text transform="translate(662.4,1318) rotate(-90)">KCNQ1OT1-1-ICR <tspan>[HHAI]</tspan></text>
<text transform="translate(688.7,1318) rotate(-90)">KCNQ1-13</text>
<text transform="translate(715,1318) rotate(-90)">KCNQ1-15</text>
<text transform="translate(741.3,1318) rotate(-90)">KCNQ1-17</text>
<text transform="translate(767.6,1318) rotate(-90)">CDKN1C-3</text>
<text transform="translate(793.9,1318) rotate(-90)">CDKN1C-1</text>
<text transform="translate(820.2,1318) rotate(-90)">CDKN1C-1<tspan>[HHAI]</tspan></text>
<text transform="translate(846.5,1318) rotate(-90)">ESCO2-1 <tspan>[HHAI]</tspan></text>
</g>
</svg>
</body></html>
